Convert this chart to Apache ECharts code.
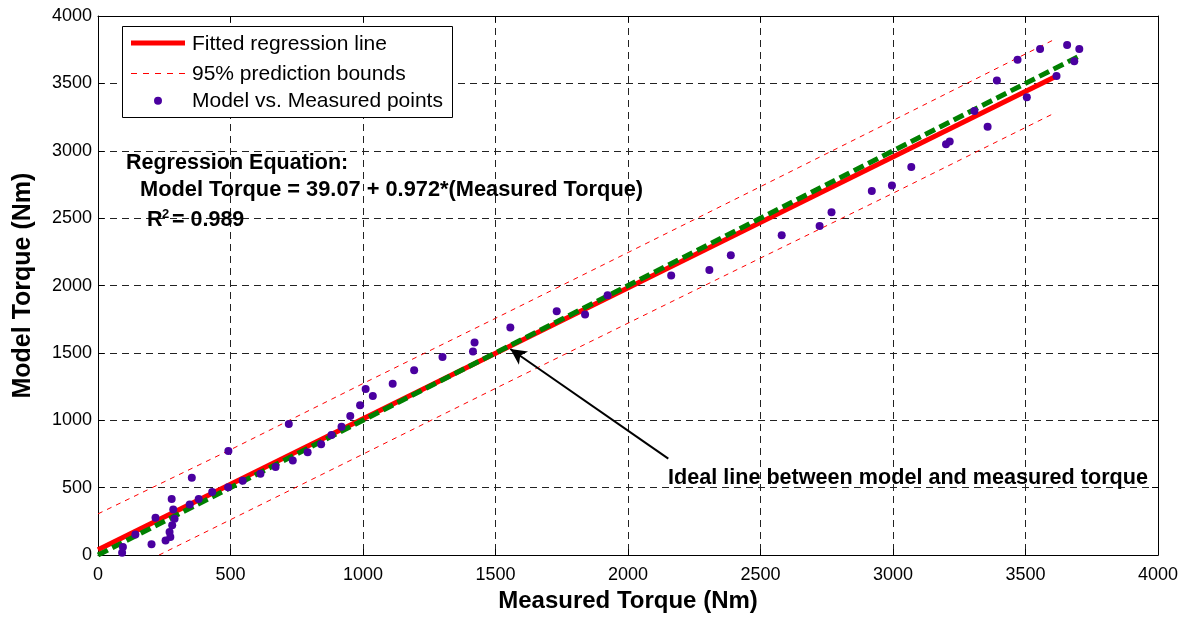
<!DOCTYPE html>
<html>
<head>
<meta charset="utf-8">
<script src="https://cdn.jsdelivr.net/npm/echarts@6/dist/echarts.min.js"></script>
<style>
  html, body { margin: 0; padding: 0; background: #fff; }
  #chart { width: 1194px; height: 618px; }
</style>
</head>
<body>
<div id="chart"></div>
<script>
// measured vs model torque points (Nm)
const measured = [91, 94, 141, 202, 217, 255, 273, 270, 280, 289, 284, 278, 354, 346, 380, 431, 491, 492, 546, 613,
  670, 720, 735, 791, 842, 881, 919, 952, 989, 1010, 1037, 1112, 1193, 1300, 1415, 1421, 1556, 1731, 1838, 1923,
  2163, 2307, 2388, 2580, 2723, 2768, 2920, 2996, 3069, 3200, 3214, 3357, 3307, 3392, 3470, 3505, 3555, 3617, 3657, 3684, 3703];
const model = [17, 61, 152, 81, 277, 108, 135, 172, 221, 270, 339, 417, 574, 376, 417, 468, 503, 773, 552, 604,
  654, 972, 702, 763, 822, 891, 952, 1033, 1112, 1232, 1180, 1271, 1372, 1470, 1510, 1578, 1689, 1809, 1786, 1928,
  2074, 2116, 2225, 2373, 2442, 2543, 2701, 2742, 2879, 3049, 3068, 3178, 3296, 3522, 3675, 3397, 3756, 3555, 3785, 3664, 3756];

// fitted regression line, ideal line
const fitX = [0, 3610];
const fitY = [39, 3548];
const idealX = [0, 3705];
const idealY = [0, 3705];

// 95% prediction bounds
const upperX = [0, 500, 1000, 1500, 2000, 2500, 3000, 3605];
const upperY = [306, 782, 1273, 1757, 2245, 2734, 3225, 3822];
const lowerX = [230, 1000, 1500, 2000, 2500, 3000, 3614];
const lowerY = [0, 749, 1237, 1721, 2204, 2685, 3284];

const xTicks = [0, 500, 1000, 1500, 2000, 2500, 3000, 3500, 4000];
const yTicks = [0, 500, 1000, 1500, 2000, 2500, 3000, 3500, 4000];

const legendNames = ['Fitted regression line', '95% prediction bounds', 'Model vs. Measured points'];

// arrow annotation: from label to the ideal line
const arrowFrom = [2152, 716];
const arrowTo = [1556, 1529];

const FONT = '"Liberation Sans", Arial, sans-serif';
const RED = '#ff0000';
const PURPLE = '#4a00a0';
const zip = (xs, ys) => xs.map((x, i) => [x, ys[i]]);

const chart = echarts.init(document.getElementById('chart'));

const baseAxis = (ticks) => ({
  type: 'value',
  min: ticks[0],
  max: ticks[ticks.length - 1],
  interval: ticks[1] - ticks[0],
  axisLine: { show: true, onZero: false, lineStyle: { color: '#000', width: 1 } },
  axisTick: { show: true, inside: true, length: 6, lineStyle: { color: '#000' } },
});

// legend box drawn by hand (the built-in one kept greying the dashed sample)
const legendBox = { x: 122, y: 26, w: 330, h: 91 };
const rowY = [43, 73.5, 100.7];
const sampleX = [131, 185];
const legendGraphic = [
  {
    type: 'rect', z: 20,
    shape: { x: legendBox.x + 0.5, y: legendBox.y + 0.5, width: legendBox.w, height: legendBox.h },
    style: { fill: '#fff', stroke: '#000', lineWidth: 1 },
  },
  {
    type: 'line', z: 21,
    shape: { x1: sampleX[0], y1: rowY[0], x2: sampleX[1], y2: rowY[0] },
    style: { stroke: RED, lineWidth: 5 },
  },
  {
    type: 'line', z: 21,
    shape: { x1: sampleX[0], y1: rowY[1], x2: sampleX[1], y2: rowY[1] },
    style: { stroke: RED, lineWidth: 1, lineDash: [6, 6] },
  },
  {
    type: 'circle', z: 21,
    shape: { cx: (sampleX[0] + sampleX[1]) / 2, cy: rowY[2], r: 4 },
    style: { fill: PURPLE },
  },
  ...legendNames.map((name, i) => ({
    type: 'text', z: 21, x: 192, y: rowY[i] + 1,
    style: { text: name, font: '21px ' + FONT, fill: '#000', verticalAlign: 'middle' },
  })),
];

const option = {
  backgroundColor: '#fff',
  animation: false,
  textStyle: { fontFamily: FONT },
  grid: { left: 98, right: 36, top: 16, bottom: 60 },
  xAxis: [
    {
      ...baseAxis(xTicks),
      name: 'Measured Torque (Nm)',
      nameLocation: 'middle',
      nameGap: 31,
      nameTextStyle: { fontSize: 24, fontWeight: 'bold', color: '#000', fontFamily: FONT },
      axisLabel: { color: '#000', fontSize: 18, margin: 11, fontFamily: FONT, formatter: (v) => String(v) },
      splitLine: { show: true, lineStyle: { color: '#222', width: 1, type: [7, 5] } },
    },
    {
      ...baseAxis(xTicks),
      position: 'top',
      axisLabel: { show: false },
      splitLine: { show: false },
    },
  ],
  yAxis: [
    {
      ...baseAxis(yTicks),
      name: 'Model Torque (Nm)',
      nameLocation: 'middle',
      nameGap: 62,
      nameTextStyle: { fontSize: 25, fontWeight: 'bold', color: '#000', fontFamily: FONT },
      axisLabel: { color: '#000', fontSize: 18, margin: 6, fontFamily: FONT, formatter: (v) => String(v) },
      splitLine: { show: true, lineStyle: { color: '#222', width: 1, type: [7, 5] } },
    },
    {
      ...baseAxis(yTicks),
      position: 'right',
      axisLabel: { show: false },
      splitLine: { show: false },
    },
  ],
  series: [
    {
      name: legendNames[1],
      type: 'line',
      data: zip(upperX, upperY),
      symbol: 'none',
      itemStyle: { color: RED },
      lineStyle: { color: RED, width: 1, type: [5, 5] },
      z: 2,
    },
    {
      name: legendNames[1],
      type: 'line',
      data: zip(lowerX, lowerY),
      symbol: 'none',
      itemStyle: { color: RED },
      lineStyle: { color: RED, width: 1, type: [5, 5] },
      z: 2,
    },
    {
      name: legendNames[0],
      type: 'line',
      data: zip(fitX, fitY),
      symbol: 'none',
      itemStyle: { color: RED },
      lineStyle: { color: RED, width: 5 },
      z: 3,
    },
    {
      name: 'Ideal line',
      type: 'line',
      data: zip(idealX, idealY),
      symbol: 'none',
      itemStyle: { color: '#008000' },
      lineStyle: { color: '#008000', width: 5, type: [11, 5] },
      z: 4,
      markLine: {
        silent: true,
        animation: false,
        symbol: ['none', 'arrow'],
        symbolSize: [12, 16],
        label: { show: false },
        lineStyle: { color: '#000', width: 2, type: 'solid' },
        data: [[{ coord: arrowFrom }, { coord: arrowTo }]],
      },
    },
    {
      name: legendNames[2],
      type: 'scatter',
      data: zip(measured, model),
      symbol: 'circle',
      symbolSize: 8,
      itemStyle: { color: PURPLE, opacity: 1 },
      z: 5,
    },
  ],
  graphic: [
    ...legendGraphic,
    {
      type: 'text', x: 126, y: 163, z: 10,
      style: { text: 'Regression Equation:', font: 'bold 21.5px ' + FONT, fill: '#000', verticalAlign: 'middle' },
    },
    {
      type: 'text', x: 140, y: 190, z: 10,
      style: { text: 'Model Torque = 39.07 + 0.972*(Measured Torque)', font: 'bold 21.8px ' + FONT, fill: '#000', verticalAlign: 'middle' },
    },
    {
      type: 'text', x: 147, y: 220, z: 10,
      style: { text: 'R', font: 'bold 21.5px ' + FONT, fill: '#000', verticalAlign: 'middle' },
    },
    {
      type: 'text', x: 162, y: 208, z: 10,
      style: { text: '2', font: 'bold 13px ' + FONT, fill: '#000', verticalAlign: 'top' },
    },
    {
      type: 'text', x: 172, y: 220, z: 10,
      style: { text: '= 0.989', font: 'bold 21.5px ' + FONT, fill: '#000', verticalAlign: 'middle' },
    },
    {
      type: 'text', x: 668, y: 478, z: 10,
      style: { text: 'Ideal line between model and measured torque', font: 'bold 21.6px ' + FONT, fill: '#000', verticalAlign: 'middle' },
    },
  ],
};

chart.setOption(option);
</script>
</body>
</html>
